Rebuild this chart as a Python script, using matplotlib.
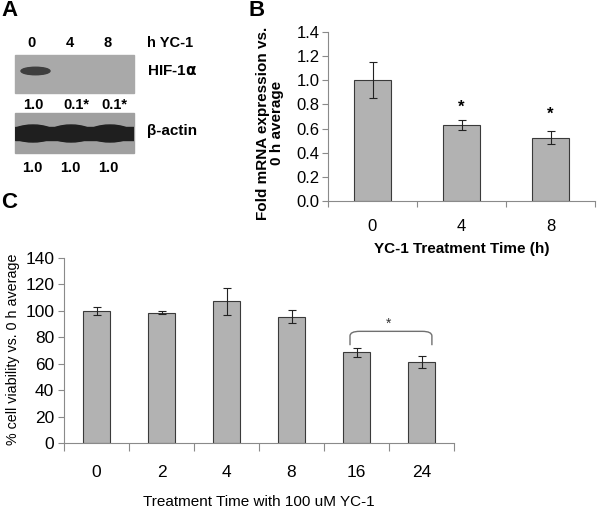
import matplotlib
matplotlib.use("Agg")
import matplotlib.pyplot as plt
from matplotlib.patches import Rectangle, Ellipse, PathPatch
from matplotlib.path import Path
import numpy as np

plt.rcParams['font.family'] = ['Liberation Sans', 'DejaVu Sans']

# panel B data
b_times = ['0', '4', '8']
b_values = [1.0, 0.63, 0.525]
b_errors = [0.15, 0.038, 0.052]
b_stars = [None, 0.775, 0.715]

# panel C data
c_times = ['0', '2', '4', '8', '16', '24']
c_values = [100, 98.6, 107.4, 95.6, 68.6, 61.6]
c_errors = [3.2, 1.0, 10.2, 4.8, 3.4, 4.6]

# panel A blot labels
blot_lanes = ['0', '4', '8']
hif_ratio = ['1.0', '0.1*', '0.1*']
actin_ratio = ['1.0', '1.0', '1.0']

W, H = 600, 512
fig = plt.figure(figsize=(6, 5.12), dpi=100)

def box(l, t, r, b):
    return [l / W, 1 - b / H, (r - l) / W, (b - t) / H]

bar_color = '#b2b2b2'
edge_color = '#3a3a3a'
axis_color = '#8a8a8a'

# ---------- panel A (blot drawn in pixel space) ----------
axa = fig.add_axes([0, 0, 1, 1])
axa.set_xlim(0, W)
axa.set_ylim(H, 0)
axa.axis('off')

axa.add_patch(Rectangle((15, 55), 119, 38, color='#a9a9a9'))
axa.add_patch(Ellipse((35.5, 71), 29, 7.5, color='#3e3e3e'))
bottom_blot = Rectangle((15, 113), 119, 40, color='#a0a0a0')
axa.add_patch(bottom_blot)
band = Rectangle((15, 127), 119, 13, color='#1f1f1f')
axa.add_patch(band)
band.set_clip_path(bottom_blot)
for cx in [33, 71, 110]:
    e = Ellipse((cx, 133.5), 44, 17, color='#1f1f1f')
    axa.add_patch(e)
    e.set_clip_path(bottom_blot)

lane_x = [32, 70, 108]
for x, t in zip(lane_x, blot_lanes):
    axa.text(x, 43, t, ha='center', va='center', fontsize=10.5, fontweight='bold')
axa.text(147, 43, 'h YC-1', ha='left', va='center', fontsize=10.5, fontweight='bold')
axa.text(147, 71, r'HIF-1$\mathbf{\alpha}$', ha='left', va='center', fontsize=11, fontweight='bold')
axa.text(147, 131, 'β-actin', ha='left', va='center', fontsize=11, fontweight='bold')
for x, t in zip([33, 76, 114], hif_ratio):
    axa.text(x, 105, t, ha='center', va='center', fontsize=10.5, fontweight='bold')
for x, t in zip(lane_x, actin_ratio):
    axa.text(x, 168, t, ha='center', va='center', fontsize=10.5, fontweight='bold')

axa.text(1, 11, 'A', ha='left', va='center', fontsize=16, fontweight='bold')
axa.text(248, 11, 'B', ha='left', va='center', fontsize=16, fontweight='bold')
axa.text(1, 202, 'C', ha='left', va='center', fontsize=16, fontweight='bold')

# ---------- panel B ----------
axb = fig.add_axes(box(328, 32, 595, 201))
xb = np.arange(len(b_times))
axb.bar(xb, b_values, width=0.41, color=bar_color, edgecolor=edge_color, linewidth=0.8,
        yerr=b_errors, error_kw=dict(ecolor='#222222', elinewidth=0.8, capsize=3, capthick=0.8))
for x, s in zip(xb, b_stars):
    if s is not None:
        axb.text(x, s, '*', ha='center', va='center', fontsize=12, fontweight='bold')
axb.set_xlim(-0.5, len(b_times) - 0.5)
axb.set_ylim(0, 1.4)
axb.set_yticks(np.arange(0, 1.41, 0.2))
axb.set_yticklabels(['%.1f' % v for v in np.arange(0, 1.41, 0.2)])
axb.set_xticks(np.arange(-0.5, len(b_times), 1.0))
axb.set_xticklabels([])
axb.set_xticks(xb, minor=True)
axb.set_xticklabels(b_times, minor=True)
axb.tick_params(axis='x', which='major', length=4, color=axis_color)
axb.tick_params(axis='x', which='minor', length=0, pad=13, labelsize=12)
axb.tick_params(axis='y', length=4, color=axis_color, pad=2, labelsize=12)
for s in ['top', 'right']:
    axb.spines[s].set_visible(False)
for s in ['left', 'bottom']:
    axb.spines[s].set_color(axis_color)
axb.set_xlabel('YC-1 Treatment Time (h)', fontsize=11, fontweight='bold', labelpad=6)
axb.set_ylabel('Fold mRNA expression vs.\n0 h average', fontsize=11, fontweight='bold',
               linespacing=1.0)
axb.yaxis.set_label_coords(-0.165, 0.46)

# ---------- panel C ----------
axc = fig.add_axes(box(64, 258, 454, 443))
xc = np.arange(len(c_times))
axc.bar(xc, c_values, width=0.41, color=bar_color, edgecolor=edge_color, linewidth=0.8,
        yerr=c_errors, error_kw=dict(ecolor='#222222', elinewidth=0.8, capsize=3, capthick=0.8))
axc.set_xlim(-0.5, len(c_times) - 0.5)
axc.set_ylim(0, 140)
axc.set_yticks(np.arange(0, 141, 20))
axc.set_xticks(np.arange(-0.5, len(c_times), 1.0))
axc.set_xticklabels([])
axc.set_xticks(xc, minor=True)
axc.set_xticklabels(c_times, minor=True)
axc.tick_params(axis='x', which='major', length=6, color=axis_color)
axc.tick_params(axis='x', which='minor', length=0, pad=16, labelsize=12.5)
axc.tick_params(axis='y', length=4, color=axis_color, pad=3, labelsize=12.5)
for s in ['top', 'right']:
    axc.spines[s].set_visible(False)
for s in ['left', 'bottom']:
    axc.spines[s].set_color(axis_color)
axc.set_xlabel('Treatment Time with 100 uM YC-1', fontsize=11, labelpad=11)
axc.set_ylabel('% cell viability vs. 0 h average', fontsize=10.3)
axc.yaxis.set_label_coords(-0.112, 0.505)

# significance bracket between 16 h and 24 h
x0, x1, ylo, yhi = 3.9, 5.16, 74, 84.5
dx, dy = 0.15, 3.5
verts = [(x0, ylo), (x0, yhi - dy), (x0, yhi), (x0 + dx, yhi),
         (x1 - dx, yhi), (x1, yhi), (x1, yhi - dy), (x1, ylo)]
codes = [Path.MOVETO, Path.LINETO, Path.CURVE3, Path.CURVE3,
         Path.LINETO, Path.CURVE3, Path.CURVE3, Path.LINETO]
axc.add_patch(PathPatch(Path(verts, codes), fill=False, edgecolor='#707070', linewidth=1.0))
axc.text((x0 + x1) / 2 - 0.03, 90, '*', ha='center', va='center', fontsize=10, color='#333333')

fig.savefig('out.png', dpi=100)
